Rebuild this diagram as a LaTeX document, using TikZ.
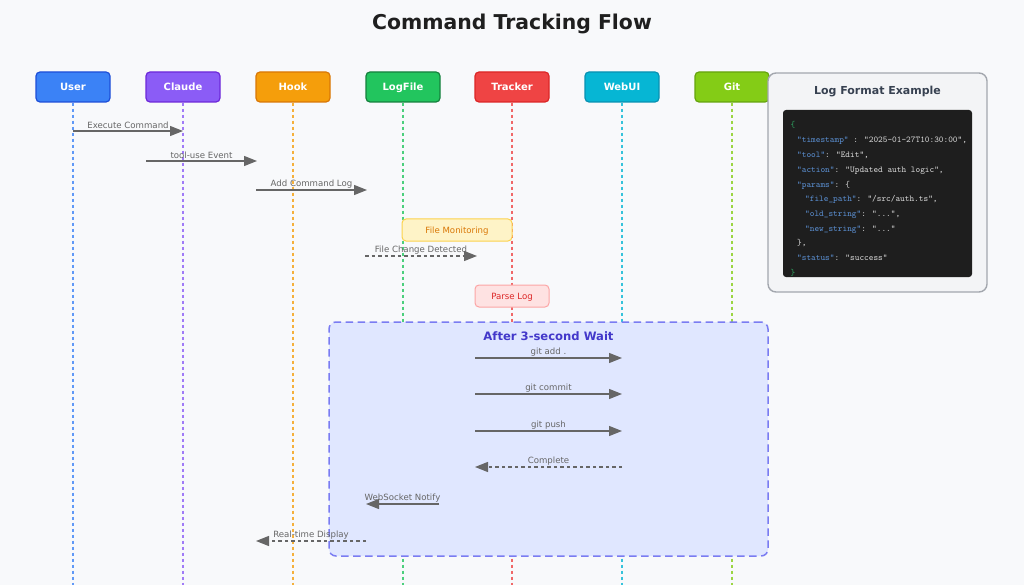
\documentclass[tikz,border=0pt]{standalone}
\usepackage{fontspec}
\setmainfont{DejaVu Sans}
\usetikzlibrary{arrows.meta}
\definecolor{bg}{HTML}{F8F9FB}
\definecolor{cUser}{HTML}{3B82F6}\definecolor{bUser}{HTML}{1D4ED8}
\definecolor{cClaude}{HTML}{8B5CF6}\definecolor{bClaude}{HTML}{6D28D9}
\definecolor{cHook}{HTML}{F59E0B}\definecolor{bHook}{HTML}{D97706}
\definecolor{cLog}{HTML}{22C55E}\definecolor{bLog}{HTML}{15803D}
\definecolor{cTrack}{HTML}{EF4444}\definecolor{bTrack}{HTML}{DC2626}
\definecolor{cWeb}{HTML}{06B6D4}\definecolor{bWeb}{HTML}{0891B2}
\definecolor{cGit}{HTML}{84CC16}\definecolor{bGit}{HTML}{65A30D}
\definecolor{msgc}{HTML}{666666}
\definecolor{lblc}{HTML}{666666}
\definecolor{grpfill}{HTML}{E0E7FF}
\definecolor{grpdraw}{HTML}{7A7CF2}
\definecolor{grptext}{HTML}{4338CA}
\definecolor{panfill}{HTML}{F3F4F6}
\definecolor{pandraw}{HTML}{A3A7AE}
\definecolor{pantext}{HTML}{374151}
\definecolor{codebg}{HTML}{1E1E1E}
\definecolor{ckey}{HTML}{5A8ED0}
\definecolor{cval}{HTML}{D4D4D4}
\definecolor{cbrace}{HTML}{2E9E5E}
\definecolor{titlec}{HTML}{1F1F1F}
\definecolor{fmfill}{HTML}{FEF3C7}\definecolor{fmdraw}{HTML}{FCD34D}\definecolor{fmtext}{HTML}{D97706}
\definecolor{plfill}{HTML}{FEE2E2}\definecolor{pldraw}{HTML}{FCA5A5}\definecolor{pltext}{HTML}{DC2626}
\tikzset{
  actor/.style n args={2}{draw=#2, fill=#1, line width=1.2pt, rounded corners=4pt,
    minimum width=74pt, minimum height=30pt, inner sep=0pt, text=white,
    text height=7.3pt, text depth=0pt,
    font=\fontsize{10}{12}\selectfont\bfseries},
  life/.style={draw=#1, draw opacity=0.8, line width=1.5pt, dash pattern=on 3pt off 3pt},
  msg/.style={draw=msgc, line width=1.3pt, -{Triangle[length=13pt,width=10pt]}},
  rmsg/.style={msg, dash pattern=on 3.5pt off 3pt},
  lbl/.style={above, inner sep=1pt, yshift=0.5pt, text=lblc, font=\fontsize{8.6}{10}\selectfont},
  notebox/.style n args={3}{draw=#2, fill=#1, text=#3, line width=1pt, rounded corners=4pt,
    inner sep=0pt, text height=6.2pt, text depth=0pt, font=\fontsize{8.6}{10}\selectfont},
  codeline/.style={anchor=base west, inner sep=0pt, font=\ttfamily\fontsize{8.9}{10}\selectfont, text=cval}
}
\newcommand{\ky}[1]{\textcolor{ckey}{#1}}
\begin{document}
\begin{tikzpicture}[x=1pt,y=-1pt]
\useasboundingbox[fill=bg] (0,0) rectangle (1024,585);

\node[text=titlec, text height=14.6pt, text depth=0pt, inner sep=0pt, font=\fontsize{20.4}{24}\selectfont\bfseries] (title) at (512,22) {Command Tracking Flow};

% participants
\node[actor={cUser}{bUser}] (user) at (73,87) {User};
\node[actor={cClaude}{bClaude}] (claude) at (183,87) {Claude};
\node[actor={cHook}{bHook}] (hook) at (293,87) {Hook};
\node[actor={cLog}{bLog}] (logfile) at (403,87) {LogFile};
\node[actor={cTrack}{bTrack}] (tracker) at (512,87) {Tracker};
\node[actor={cWeb}{bWeb}] (webui) at (622,87) {WebUI};
\node[actor={cGit}{bGit}] (git) at (732,87) {Git};

\coordinate (bottom) at (0,585);
\foreach \n/\c in {user/cUser, claude/cClaude, hook/cHook, logfile/cLog, tracker/cTrack, webui/cWeb, git/cGit}
  \draw[life=\c] (\n.south) -- (\n.south |- bottom);

% group box
\node[draw=grpdraw, fill=grpfill, line width=1.5pt, dash pattern=on 7.5pt off 4.5pt,
      rounded corners=7pt, minimum width=439pt, minimum height=234pt, inner sep=0pt] (grp) at (548.5,439) {};
\node[text=grptext, text height=8.4pt, text depth=0pt, inner sep=0pt, font=\fontsize{11.6}{14}\selectfont\bfseries] (grptitle) at (548.5,336) {After 3-second Wait};

% notes
\node[notebox={fmfill}{fmdraw}{fmtext}, minimum width=110pt, minimum height=22pt] (fmon) at (457,230) {File Monitoring};
\node[notebox={plfill}{pldraw}{pltext}, minimum width=74pt, minimum height=22pt] (parse) at (512,296) {Parse Log};

% message endpoints
\coordinate (m1s) at (73,131);  \coordinate (m1e) at (183,131);
\coordinate (m2s) at (146,161); \coordinate (m2e) at (257,161);
\coordinate (m3s) at (256,190); \coordinate (m3e) at (367,190);
\coordinate (m4s) at (365,256); \coordinate (m4e) at (477,256);
\coordinate (m5s) at (475,358); \coordinate (m5e) at (622,358);
\coordinate (m6s) at (475,394); \coordinate (m6e) at (622,394);
\coordinate (m7s) at (475,431); \coordinate (m7e) at (622,431);
\coordinate (m8s) at (622,467); \coordinate (m8e) at (475,467);
\coordinate (m9s) at (439,504); \coordinate (m9e) at (366,504);
\coordinate (m10s) at (366,541); \coordinate (m10e) at (256,541);

\draw[msg] (m1s) -- node[lbl] {Execute Command} (m1e);
\draw[msg] (m2s) -- node[lbl] {tool-use Event} (m2e);
\draw[msg] (m3s) -- node[lbl] {Add Command Log} (m3e);
\draw[rmsg] (m4s) -- node[lbl] {File Change Detected} (m4e);
\draw[msg] (m5s) -- node[lbl] {git add .} (m5e);
\draw[msg] (m6s) -- node[lbl] {git commit} (m6e);
\draw[msg] (m7s) -- node[lbl] {git push} (m7e);
\draw[rmsg] (m8s) -- node[lbl] {Complete} (m8e);
\draw[msg] (m9s) -- node[lbl] {WebSocket Notify} (m9e);
\draw[rmsg] (m10s) -- node[lbl] {Real-time Display} (m10e);

% log format panel
\node[draw=pandraw, fill=panfill, line width=1.4pt, rounded corners=8pt,
      minimum width=219pt, minimum height=219pt, inner sep=0pt] (panel) at (877.5,182.5) {};
\node[text=pantext, text height=8pt, text depth=0pt, inner sep=0pt, font=\fontsize{11}{13}\selectfont\bfseries] (pantitle) at (877.5,91) {Log Format Example};
\node[fill=codebg, rounded corners=3pt, minimum width=189pt, minimum height=167pt, inner sep=0pt] (code) at (877.5,193.5) {};

\node[codeline, text=cbrace] (c1) at (790.5,127.5) {\{};
\node[codeline] (c2) at (797,143) {\ky{"timestamp"} : "2025-01-27T10:30:00",};
\node[codeline] (c3) at (797,157.7) {\ky{"tool"}: "Edit",};
\node[codeline] (c4) at (797,172.4) {\ky{"action"}: "Updated auth logic",};
\node[codeline] (c5) at (797,187.1) {\ky{"params"}: \{};
\node[codeline] (c6) at (805,201.8) {\ky{"file\_path"}: "/src/auth.ts",};
\node[codeline] (c7) at (805,216.5) {\ky{"old\_string"}: "...",};
\node[codeline] (c8) at (805,231.2) {\ky{"new\_string"}: "..."};
\node[codeline] (c9) at (797,245.9) {\},};
\node[codeline] (c10) at (797,260.6) {\ky{"status"}: "success"};
\node[codeline, text=cbrace] (c11) at (790.5,275.3) {\}};
\end{tikzpicture}
\end{document}
